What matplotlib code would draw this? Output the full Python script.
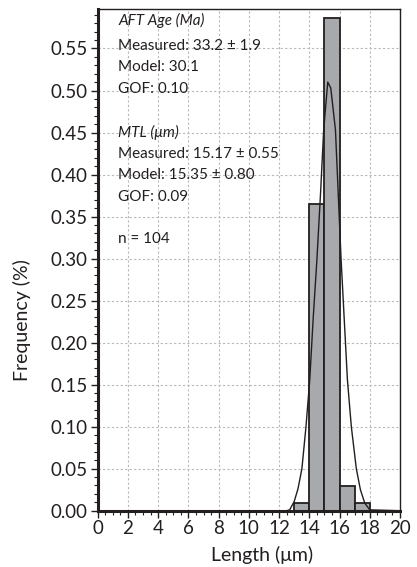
import matplotlib
matplotlib.use("Agg")
import matplotlib.pyplot as plt
from matplotlib.ticker import MultipleLocator

plt.rcParams['font.family'] = ['Lato', 'DejaVu Sans']

# Histogram data (1 µm bins)
bin_left = [13, 14, 15, 16, 17]
freq = [0.0096, 0.365, 0.586, 0.029, 0.0096]

# Model curve
curve_x = [0, 12.5, 12.7, 13.0, 13.25, 13.51, 13.78, 14.03, 14.26, 14.5, 14.75, 14.95,
           15.22, 15.42, 15.73, 16.1, 16.52, 16.78, 17.11, 17.38, 17.67, 18.0, 20]
curve_y = [0, 0, 0.001, 0.011, 0.026, 0.05, 0.10, 0.156, 0.23, 0.298, 0.38, 0.453,
           0.51, 0.503, 0.453, 0.30, 0.156, 0.10, 0.05, 0.025, 0.009, 0.001, 0]

xticks = list(range(0, 21, 2))
yticks = [round(0.05 * i, 2) for i in range(12)]

text_lines = [
    ("AFT Age (Ma)", True),
    ("Measured: 33.2 ± 1.9", False),
    ("Model: 30.1", False),
    ("GOF: 0.10", False),
    ("MTL (μm)", True),
    ("Measured: 15.17 ± 0.55", False),
    ("Model: 15.35 ± 0.80", False),
    ("GOF: 0.09", False),
    ("n = 104", False),
]
text_rows = [20, 46, 67, 89, 132, 154, 175, 197, 239]

W, H = 417, 567
ax_l, ax_r, ax_t, ax_b = 97.7, 400.0, 9.0, 510.7

fig = plt.figure(figsize=(W / 100, H / 100), dpi=100)
ax = fig.add_axes([ax_l / W, 1 - ax_b / H, (ax_r - ax_l) / W, (ax_b - ax_t) / H])

ax.bar(bin_left, freq, width=1.0, align='edge', color='#a7a9ac',
       edgecolor='#231f20', linewidth=1.3, zorder=3)
ax.plot(curve_x, curve_y, color='#231f20', linewidth=1.0, zorder=4)

ax.set_xlim(0, 20)
ax.set_ylim(0, 0.597)
ax.set_xticks(xticks)
ax.set_yticks(yticks)
ax.set_yticklabels([f"{v:.2f}" for v in yticks])
ax.xaxis.set_minor_locator(MultipleLocator(0.5))
ax.yaxis.set_minor_locator(MultipleLocator(0.01))

ax.grid(True, which='major', color='#b8b8b8', linestyle=(0, (2, 2)), linewidth=0.8, zorder=0)
ax.set_axisbelow(True)

for s in ['left', 'bottom']:
    ax.spines[s].set_linewidth(2.2)
for s in ['top', 'right']:
    ax.spines[s].set_linewidth(1.0)
for s in ax.spines.values():
    s.set_color('#231f20')
    s.set_zorder(5)

ax.tick_params(axis='both', which='major', direction='out', length=5, width=1.0,
               labelsize=13.5, colors='#231f20', pad=2)
ax.tick_params(axis='both', which='minor', direction='out', length=3, width=0.8,
               colors='#231f20')

ax.set_xlabel("Length (μm)", fontsize=14, color='#231f20')
ax.set_ylabel("Frequency (%)", fontsize=14, color='#231f20')
ax.xaxis.set_label_coords((262 - ax_l) / (ax_r - ax_l), -(555 - ax_b) / (ax_b - ax_t))
ax.yaxis.set_label_coords(-(ax_l - 22) / (ax_r - ax_l), (ax_b - 320) / (ax_b - ax_t))
ax.xaxis.label.set_va('center')
ax.yaxis.label.set_va('center')

for (t, it), row in zip(text_lines, text_rows):
    ax.text((118 - ax_l) / (ax_r - ax_l), (ax_b - row) / (ax_b - ax_t), t,
            transform=ax.transAxes, fontsize=11,
            style='italic' if it else 'normal', color='#231f20',
            va='center', ha='left', zorder=6)

fig.savefig("out.png", dpi=100)
